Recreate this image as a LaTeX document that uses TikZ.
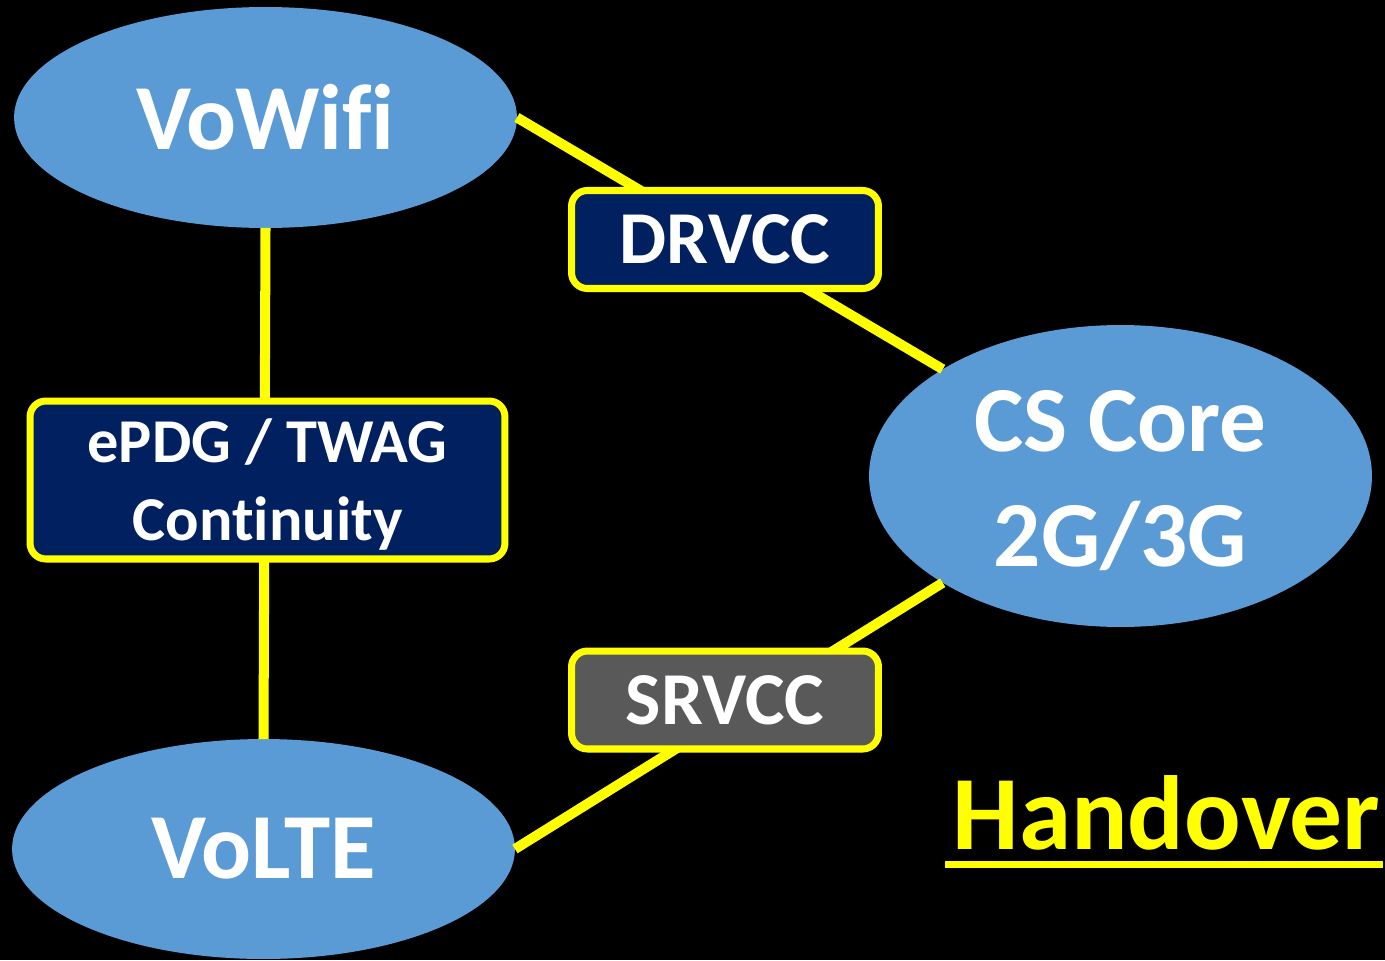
\documentclass[tikz,border=0pt]{standalone}
\usepackage{fontspec}
\setmainfont[Ligatures=NoCommon]{Carlito}
\usetikzlibrary{calc,shapes.geometric}
\definecolor{ellblue}{HTML}{5B9BD5}
\definecolor{navy}{HTML}{002060}
\definecolor{boxgray}{HTML}{595959}
\definecolor{hy}{HTML}{FFFF00}
\pgfdeclarelayer{top}
\pgfsetlayers{main,top}
\begin{document}
\begin{tikzpicture}[x=0.02cm,y=-0.02cm,
  ell/.style={ellipse, fill=ellblue, inner sep=0pt, outer sep=0pt, text=white,
    font=\bfseries\fontsize{53}{65}\selectfont, align=center, minimum width=10.06cm},
  conn/.style={draw=hy, line width=5.7pt},
  tag/.style={draw=hy, line width=4pt, rounded corners=9pt, text=white, inner sep=0pt,
    outer sep=0pt, align=center},
  small/.style={minimum width=6.14cm, minimum height=1.96cm,
    font=\bfseries\fontsize{42.5}{50}\selectfont}]
\fill[black] (0,0) rectangle (1385,960);
\useasboundingbox (0,0) rectangle (1385,960);

\node[ell, minimum height=4.42cm] (vowifi) at (265.5,117.5) {VoWifi};
\node[ell, minimum height=4.4cm] (volte) at (263.5,849) {VoLTE};
\node[ell, minimum height=6.04cm] (cs) at (1120.5,476) {\rule{0pt}{40pt}CS Core\\2G/3G};

\draw[conn] (vowifi.east) -- (cs.north west);
\draw[conn] (cs.south west) -- (volte.east);
\draw[conn] (vowifi.south) -- (volte.north);

\begin{pgfonlayer}{top}
\node[tag, small, fill=navy] (drvcc) at (725,239.5) {DRVCC};
\node[tag, small, fill=boxgray] (srvcc) at (725,700) {SRVCC};
\node[tag, fill=navy, minimum width=9.5cm, minimum height=3.16cm,
  font=\bfseries\fontsize{35.5}{44.2}\selectfont] (epdg) at (267.5,480) {\rule{0pt}{30pt}ePDG / TWAG\\Continuity};
\end{pgfonlayer}

\node[anchor=base, text=hy, font=\bfseries\fontsize{60}{70}\selectfont, inner sep=0pt] (ho) at (1166.5,849) {Handover};
\draw[hy, line width=4pt] ($(ho.base west)+(-7,15.5)$) -- ($(ho.base east)+(2,15.5)$);
\end{tikzpicture}
\end{document}
